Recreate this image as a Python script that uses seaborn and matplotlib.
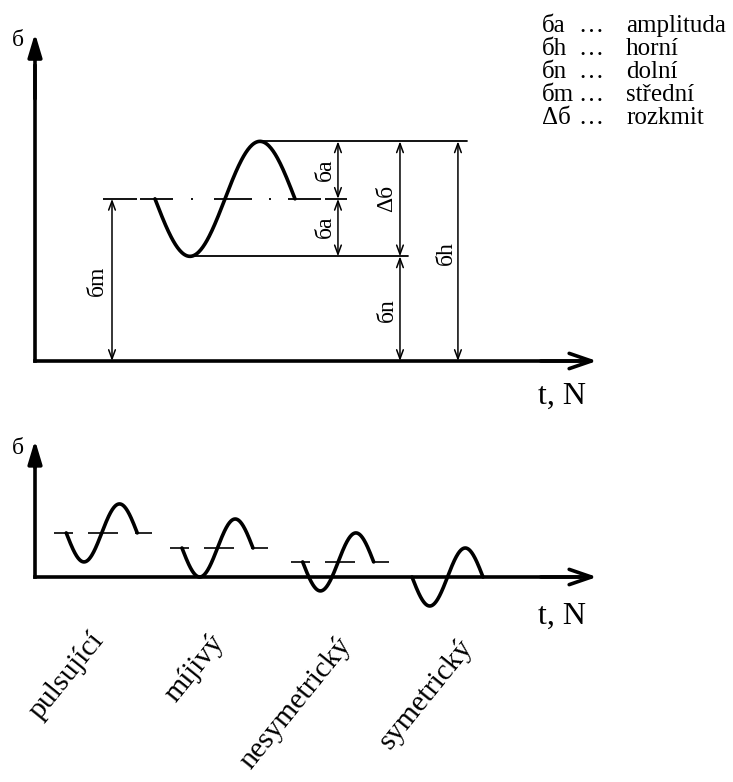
import numpy as np
import pandas as pd
import matplotlib
matplotlib.use("Agg")
import matplotlib.pyplot as plt
import seaborn as sns

sns.set_theme(style="white")
plt.rcParams["font.family"] = ["Liberation Serif", "DejaVu Serif"]
plt.rcParams["lines.scale_dashes"] = False

# --- main diagram: one stress cycle (stress units, time in cycles) ---
sigma_m = 2.82          # mean stress
sigma_a = 1.0           # stress amplitude
cycle_start = 0.857     # cycle begins at the mean level, going down

# --- lower diagram: types of loading cycle ---
cycle_names = ["pulsující", "míjivý", "nesymetrický", "symetrický"]
cycle_means = [1.52, 1.0, 0.52, 0.0]
cycle_amps = [1.0, 1.0, 1.0, 1.0]
cycle_starts = [0.44, 2.07, 3.77, 5.31]

# --- key ---
legend_symbols = ["бa", "бh", "бn", "бm", "Δб"]
legend_terms = ["amplituda", "horní", "dolní", "střední", "rozkmit"]

W, H = 733, 782
fig = plt.figure(figsize=(W / 100, H / 100), dpi=100)
fig.patch.set_facecolor("white")


def cycle_frame(start, mean, amp, label):
    t = np.linspace(start, start + 1.0, 200)
    return pd.DataFrame({"t": t,
                         "s": mean - amp * np.sin(2 * np.pi * (t - start)),
                         "cycle": label})


def axis_arrows(ax, xmax, ymax):
    ax.plot([0, 0], [0, ymax * 0.9], color="black", lw=2.6,
            solid_capstyle="projecting")
    ax.plot([0, xmax * 0.97], [0, 0], color="black", lw=2.6,
            solid_capstyle="projecting")
    ax.annotate("", xy=(0, ymax), xytext=(0, ymax * 0.8),
                arrowprops=dict(arrowstyle="-|>,head_length=1.4,head_width=0.42",
                                lw=2.6, color="black", shrinkA=0, shrinkB=0,
                                mutation_scale=10))
    ax.annotate("", xy=(xmax, 0), xytext=(xmax * 0.9, 0),
                arrowprops=dict(arrowstyle="->,head_length=1.6,head_width=0.55",
                                lw=2.6, color="black", shrinkA=0, shrinkB=0,
                                mutation_scale=10))


def dim_arrow(ax, x, y0, y1):
    ax.annotate("", xy=(x, y1), xytext=(x, y0),
                arrowprops=dict(arrowstyle="<->,head_length=0.65,head_width=0.24",
                                lw=1.1, color="black", shrinkA=0, shrinkB=0,
                                mutation_scale=10))


def ftext(x, y, s, **kw):
    """Place text at pixel position (x from left, y from top)."""
    fig.text(x / W, 1 - y / H, s, color="black", **kw)


# ================= upper diagram =================
ax1 = fig.add_axes([0, 1 - 420 / H, 1, 420 / H])
ax1.set_xlim(-35 / 140, (W - 35) / 140)
ax1.set_ylim((361 - 420) / 57.5, 361 / 57.5)
ax1.axis("off")

sigma_h = sigma_m + sigma_a
sigma_n = sigma_m - sigma_a
t_peak = cycle_start + 0.75
t_trough = cycle_start + 0.25

axis_arrows(ax1, 4.014, 5.70)

# mean stress line (dash-dot)
ax1.plot([0.486, 2.23], [sigma_m, sigma_m], color="black", lw=1.3,
         linestyle=(0, np.array([34, 3, 33, 18, 2, 21, 38, 17, 2, 17, 33, 4, 30, 4]) * 0.72))
# upper / lower stress levels
ax1.plot([t_peak, 3.086], [sigma_h, sigma_h], color="black", lw=1.3)
ax1.plot([t_trough, 2.664], [sigma_n, sigma_n], color="black", lw=1.3)

sns.lineplot(data=cycle_frame(cycle_start, sigma_m, sigma_a, "main"),
             x="t", y="s", sort=False, estimator=None, color="black",
             lw=2.6, ax=ax1, legend=False)

dim_arrow(ax1, 0.55, 0, sigma_m)
dim_arrow(ax1, 2.164, sigma_m, sigma_h)
dim_arrow(ax1, 2.164, sigma_n, sigma_m)
dim_arrow(ax1, 2.607, sigma_n, sigma_h)
dim_arrow(ax1, 2.607, 0, sigma_n)
dim_arrow(ax1, 3.021, 0, sigma_h)

dim_kw = dict(size=17, rotation=90, ha="center", va="center")
ftext(97, 281, "бm", **dim_kw)
ftext(325, 170, "бa", **dim_kw)
ftext(325, 227, "бa", **dim_kw)
ftext(387, 198, "Δб", **dim_kw)
ftext(387, 310, "бn", **dim_kw)
ftext(446, 253, "бh", **dim_kw)

ftext(18, 41, "б", size=17, ha="center", va="center")
ftext(562, 396, "t, N", size=23, ha="center", va="center")

# key
for i, (sym, term) in enumerate(zip(legend_symbols, legend_terms)):
    y = 32 + i * 23
    ftext(542, y, sym, size=18, ha="left", va="baseline")
    ftext(578, y, "…", size=18, ha="left", va="baseline")
    ftext(626, y, term, size=18, ha="left", va="baseline")

# ================= lower diagram =================
ax2 = fig.add_axes([0, 0, 1, (H - 420) / H])
ax2.set_xlim(-35 / 71, (W - 35) / 71)
ax2.set_ylim((577 - H) / 29, (577 - 420) / 29)
ax2.axis("off")

axis_arrows(ax2, 7.915, 4.72)

frames = []
for name, m, a, s0 in zip(cycle_names, cycle_means, cycle_amps, cycle_starts):
    frames.append(cycle_frame(s0, m, a, name))
    if m > 0:
        ax2.plot([s0 - 0.17, s0 + 1.23], [m, m], color="black", lw=1.2,
                 linestyle=(0, np.array([19, 15, 30, 17, 17, 10]) * 0.72))
cycles = pd.concat(frames, ignore_index=True)
sns.lineplot(data=cycles, x="t", y="s", units="cycle", sort=False,
             estimator=None, color="black", lw=2.6, ax=ax2, legend=False)

ftext(18, 448, "б", size=17, ha="center", va="center")
ftext(562, 616, "t, N", size=23, ha="center", va="center")

label_anchor_px = [(99, 636), (219, 638), (346, 640), (468, 642)]
for name, (px, py) in zip(cycle_names, label_anchor_px):
    ftext(px, py, name, size=21.5, rotation=51, rotation_mode="anchor",
          ha="right", va="center")

fig.savefig("out.png", dpi=100, facecolor="white")
